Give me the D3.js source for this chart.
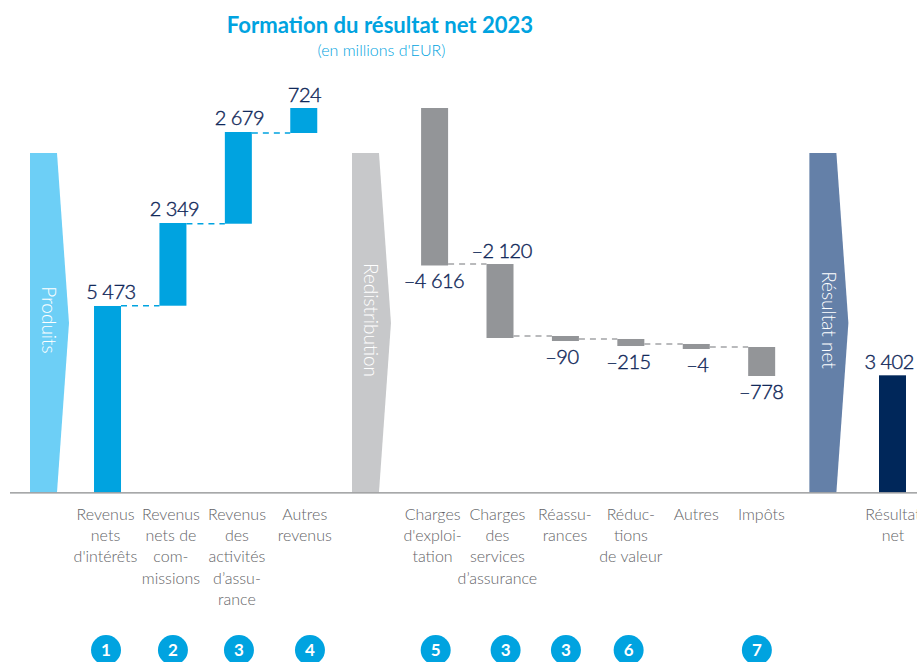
<!DOCTYPE html>
<html lang="fr">
<head>
<meta charset="utf-8">
<title>Formation du résultat net 2023</title>
<script src="https://cdn.jsdelivr.net/npm/d3@7"></script>
<style>
    html, body { margin: 0; padding: 0; background: #fff; overflow: hidden; }
    svg { display: block; font-family: Lato, "Open Sans", sans-serif; }
</style>
</head>
<body>
<div id="chart"></div>
<script>
// Slots along the axis, the three arrows take a slot like the bars do
const slots = ["produits", "interets", "commissions", "assuranceRev", "autresRev", "redistribution",
    "exploitation", "assuranceCh", "reassurances", "reductions", "autresCh", "impots", "resultatArrow", "resultat"];

const barSlots = slots.filter(s => !["produits", "redistribution", "resultatArrow"].includes(s));
const barValues = ["5 473", "2 349", "2 679", "724", "–4 616", "–2 120", "–90", "–215", "–4", "–778", "3 402"];
const barStart = [0, 5450, 7845, 10495, 11225, 6668, 4565, 4478, 4332, 4244, 3417];
const barEnd = [5442, 7866, 10524, 11225, 6625, 4507, 4419, 4273, 4186, 3397, 0];
const barGroup = ["rev", "rev", "rev", "rev", "ch", "ch", "ch", "ch", "ch", "ch", "net"];
const labelSide = ["above", "above", "above", "above", "below", "above", "below", "below", "below", "below", "above"];

// Axis labels, one entry per line
const barLabels = [
    ["Revenus", "nets", "d'intérêts"],
    ["Revenus", "nets de", "com-", "missions"],
    ["Revenus", "des", "activités", "d’assu-", "rance"],
    ["Autres", "revenus"],
    ["Charges", "d'exploi-", "tation"],
    ["Charges", "des", "services", "d’assurance"],
    ["Réassu-", "rances"],
    ["Réduc-", "tions", "de valeur"],
    ["Autres"],
    ["Impôts"],
    ["Résultat", "net"]
];

// Numbered notes under the labels, 0 means no note
const barNotes = [1, 2, 3, 4, 5, 3, 3, 6, 0, 7, 0];

// The big arrows
const arrowSlots = ["produits", "redistribution", "resultatArrow"];
const arrowNames = ["Produits", "Redistribution", "Résultat net"];
const arrowLevel = 9910;

const chartTitle = "Formation du résultat net 2023";
const chartSubtitle = "(en millions d'EUR)";

// Colours
const barColor = { rev: "#00a3e0", ch: "#939598", net: "#00275a" };
const dashColor = { rev: "#00a3e0", ch: "#a3a4a6" };
const arrowColors = ["#6dcff6", "#c7c8ca", "#6480a8"];
const navy = "#12295a";
const labelGrey = "#636467";

const width = 917;
const height = 662;

const svg = d3.select("#chart")
    .append("svg")
    .attr("width", width)
    .attr("height", height);

// Scales
const x = d3.scaleBand()
    .domain(slots)
    .range([28.6, 906])
    .paddingInner(0.5873)
    .paddingOuter(0);

const y = d3.scaleLinear()
    .domain([0, 11225])
    .range([492.3, 108]);

// Title
svg.append("text")
    .attr("x", 380)
    .attr("y", 33)
    .attr("text-anchor", "middle")
    .attr("font-size", 22.1)
    .attr("font-weight", 700)
    .attr("fill", "#00a3e0")
    .text(chartTitle);

svg.append("text")
    .attr("x", 381.5)
    .attr("y", 56)
    .attr("text-anchor", "middle")
    .attr("font-size", 16)
    .attr("font-weight", 300)
    .attr("fill", "#00a3e0")
    .text(chartSubtitle);

// Arrows, nudged a little from their slots as in the original
const arrowNudge = [1.4, -3.7, -4.2];
const arrowTip = 12;
const arrowTipY = 323;

const arrows = svg.selectAll(".arrow")
    .data(arrowSlots)
    .join("g")
    .attr("class", "arrow")
    .attr("transform", (d, i) => "translate(" + (x(d) + arrowNudge[i]) + ",0)");

arrows.append("path")
    .attr("fill", (d, i) => arrowColors[i])
    .attr("d", () => {
        const w = x.bandwidth();
        return d3.line()([[0, y(arrowLevel)], [w, y(arrowLevel)], [w + arrowTip, arrowTipY], [w, y(0)], [0, y(0)]]) + "Z";
    });

arrows.append("text")
    .attr("transform", "translate(" + 19 + ",320) rotate(90)")
    .attr("text-anchor", "middle")
    .attr("dy", "0.35em")
    .attr("font-size", 19)
    .attr("font-weight", 300)
    .attr("fill", "#fff")
    .text((d, i) => arrowNames[i]);

// Dashed connectors go from one bar to the start level of the next one
const links = d3.range(barSlots.length - 2).filter(i => barGroup[i] === barGroup[i + 1]);

svg.selectAll(".link")
    .data(links)
    .join("line")
    .attr("class", "link")
    .attr("x1", i => x(barSlots[i]) + x.bandwidth())
    .attr("x2", i => x(barSlots[i + 1]))
    .attr("y1", i => y(barStart[i + 1]))
    .attr("y2", i => y(barStart[i + 1]))
    .attr("stroke", i => dashColor[barGroup[i]])
    .attr("stroke-width", 1.5)
    .attr("stroke-dasharray", "6 5");

// Bars
svg.selectAll(".bar")
    .data(barSlots)
    .join("rect")
    .attr("class", "bar")
    .attr("x", d => x(d))
    .attr("width", x.bandwidth())
    .attr("y", (d, i) => y(Math.max(barStart[i], barEnd[i])))
    .attr("height", (d, i) => Math.abs(y(barStart[i]) - y(barEnd[i])))
    .attr("fill", (d, i) => barColor[barGroup[i]]);

// Value labels
const valueNudge = [3.5, 1.5, 1, 0.7, -0.6, 1.6, -3.5, -2.4, 1, -0.5, -3.4];

svg.selectAll(".value")
    .data(barSlots)
    .join("text")
    .attr("class", "value")
    .attr("x", (d, i) => x(d) + x.bandwidth() / 2 + valueNudge[i])
    .attr("y", (d, i) => {
        const top = y(Math.max(barStart[i], barEnd[i]));
        const bottom = y(Math.min(barStart[i], barEnd[i]));
        return labelSide[i] === "above" ? top - 6.5 : bottom + 23;
    })
    .attr("text-anchor", "middle")
    .attr("font-size", 20)
    .attr("font-weight", 300)
    .attr("letter-spacing", -0.5)
    .attr("fill", navy)
    .attr("stroke", navy)
    .attr("stroke-width", 0.4)
    .text((d, i) => barValues[i]);

// Baseline, the ticks are drawn by hand below because labels wrap
svg.append("g")
    .attr("transform", "translate(0," + y(0) + ")")
    .call(d3.axisBottom(d3.scaleLinear().domain([9.5, width]).range([9.5, width])).tickValues([]).tickSizeOuter(0))
    .select(".domain")
    .attr("stroke", "#8a8b8d")
    .attr("stroke-width", 1.2);

// Axis labels
const categoryNudge = [-2, -2, -1.4, 1, -2, -2.6, -0.5, 0, 0, -0.3, 0.5];

const categoryLabels = svg.selectAll(".category")
    .data(barSlots)
    .join("text")
    .attr("class", "category")
    .attr("text-anchor", "middle")
    .attr("font-size", 16)
    .attr("font-weight", 300)
    .attr("fill", labelGrey);

categoryLabels.selectAll("tspan")
    .data((d, i) => barLabels[i].map(line => ({ line: line, slot: d, nudge: categoryNudge[i] })))
    .join("tspan")
    .attr("x", d => x(d.slot) + x.bandwidth() / 2 + d.nudge)
    .attr("y", (d, i) => 519.5 + i * 21.4)
    .text(d => d.line);

// Numbered notes
const noteNudge = [-1.5, 0, 0.6, 6.2, 1.1, 5.6, 0.5, -2.2, 0, -4.8, 0];

const notes = svg.selectAll(".note")
    .data(barSlots.filter((d, i) => barNotes[i] > 0))
    .join("g")
    .attr("class", "note")
    .attr("transform", d => {
        const i = barSlots.indexOf(d);
        return "translate(" + (x(d) + x.bandwidth() / 2 + noteNudge[i]) + ",650)";
    });

notes.append("circle")
    .attr("r", 15)
    .attr("fill", "#00a3e0");

notes.append("text")
    .attr("text-anchor", "middle")
    .attr("dy", "0.36em")
    .attr("font-size", 17)
    .attr("font-weight", 700)
    .attr("fill", "#fff")
    .text(d => barNotes[barSlots.indexOf(d)]);
</script>
</body>
</html>
